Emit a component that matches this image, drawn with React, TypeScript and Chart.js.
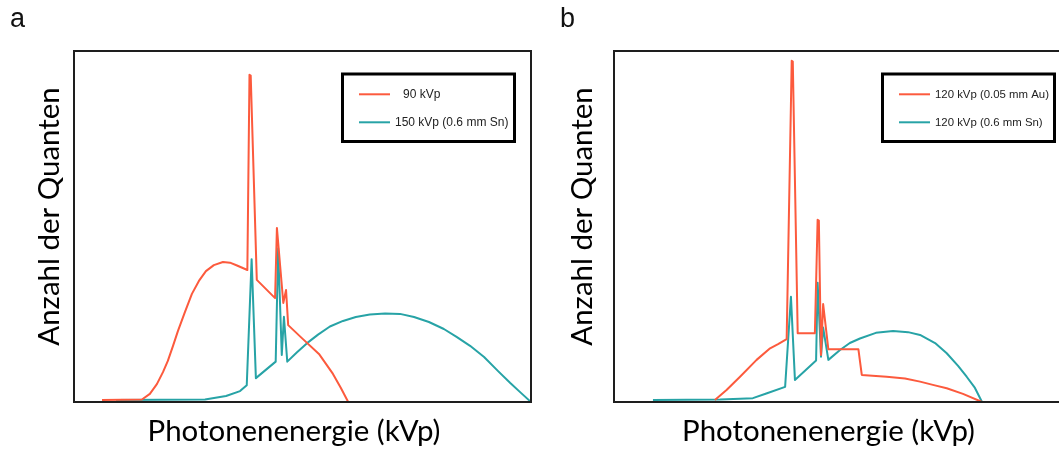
import React, { useEffect, useRef } from "react";
import { Chart, registerables } from "chart.js";

Chart.register(...registerables);

// ---------- data ----------
const RED = "#FC5A3D";
const TEAL = "#27A3A6";

// Panel a
const aLegendLabels = ["90 kVp", "150 kVp (0.6 mm Sn)"];
const aRedX = [9.2, 22.3, 24.9, 27.2, 29.2, 30.8, 32.5, 34.1, 36.4, 38.7, 41, 43.3, 45.9, 48.9, 51.2, 53.5, 56.9, 57.6, 58.0, 60, 66, 66.6, 68.7, 69.6, 70.3, 74.8, 80.4, 85, 87.6, 90];
const aRedY = [0.6, 0.7, 2.3, 5.1, 8.5, 11.7, 16, 20.2, 25.6, 30.8, 34.5, 37.3, 39, 39.9, 39.7, 38.9, 37.6, 93.2, 93.0, 34.8, 29.6, 49.6, 28.2, 31.9, 21.9, 18.2, 13.7, 8, 4, 0];
const aTealX = [13.8, 43, 49.9, 54.5, 56.7, 58.3, 59.7, 66.2, 67, 68.2, 68.9, 70, 73.2, 76.4, 80.1, 84, 88.3, 92.5, 97.1, 102.1, 107, 111.6, 116.5, 121.4, 125.7, 130, 134.6, 139.2, 143.2, 146.7, 150];
const aTealY = [0.6, 0.7, 1.7, 3.1, 4.8, 40.7, 6.8, 11.5, 43.8, 13.4, 24.3, 11.5, 14.2, 16.7, 19.2, 21.5, 23.1, 24.2, 24.9, 25.2, 25.1, 24.2, 22.8, 20.8, 18.5, 16, 12.8, 8.8, 5.4, 2.6, 0];

// Panel b
const bLegendLabels = ["120 kVp (0.05 mm Au)", "120 kVp (0.6 mm Sn)"];
const bRedX = [32.9, 36.7, 41.1, 46.5, 50.9, 53.5, 56.3, 57.95, 58.3, 59.9, 65.5, 66.4, 66.8, 67.5, 68.2, 69.9, 79.7, 80.8, 88.9, 94.9, 99.8, 104.3, 108.5, 113.8, 120];
const bRedY = [0.6, 3.4, 7.2, 12, 15.3, 16.5, 17.9, 97.2, 97.0, 19.6, 19.6, 51.9, 51.7, 13.4, 27.9, 15, 15, 7.7, 7.2, 6.7, 5.8, 4.8, 3.9, 2.3, 0];
const bTealX = [12.7, 34.6, 41.1, 45.3, 49.9, 55.8, 57.7, 59, 65.9, 66.4, 67.5, 68.2, 69.9, 73.7, 76.9, 80.2, 85.4, 91, 95.9, 99.8, 104.7, 108.5, 112.2, 115, 117.7, 120];
const bTealY = [0.6, 0.7, 0.9, 1.1, 2.5, 4.3, 30, 6.3, 11.8, 34, 12.9, 21.2, 12, 14.8, 16.8, 18.1, 19.7, 20.2, 19.9, 19.1, 16.8, 13.9, 10.3, 7.2, 4, 0];

const X_TITLE = "Photonenenergie (kVp)";
const Y_TITLE = "Anzahl der Quanten";

const toPts = (xs: number[], ys: number[]) => xs.map((x, i) => ({ x, y: ys[i] }));

// ---------- decoration plugin ----------
const decoPlugin = {
  id: "deco",
  afterDatasetsDraw(chart: any, _args: any, opts: any) {
    const ctx = chart.ctx;
    const ca = chart.chartArea;
    ctx.save();
    // frame
    ctx.strokeStyle = "#1e1e1e";
    ctx.lineWidth = 2;
    ctx.strokeRect(ca.left, ca.top, ca.right - ca.left, ca.bottom - ca.top);

    // legend box
    const lg = opts.legend;
    ctx.strokeStyle = "#000";
    ctx.lineWidth = 3;
    ctx.strokeRect(lg.x, lg.y, lg.w, lg.h);
    ctx.lineWidth = 2;
    ctx.font = `${lg.fontSize}px 'Liberation Sans', Arial, sans-serif`;
    ctx.textBaseline = "middle";
    ctx.textAlign = "left";
    chart.data.datasets.forEach((ds: any, i: number) => {
      const y = lg.rows[i];
      ctx.strokeStyle = ds.borderColor;
      ctx.beginPath();
      ctx.moveTo(lg.lineX0, y);
      ctx.lineTo(lg.lineX1, y);
      ctx.stroke();
      ctx.fillStyle = "#222";
      ctx.fillText(ds.label, lg.textX[i], y + 0.5);
    });

    // panel letter
    ctx.fillStyle = "#111";
    ctx.font = "27px 'Liberation Sans', Arial, sans-serif";
    ctx.textBaseline = "alphabetic";
    ctx.textAlign = "left";
    ctx.fillText(opts.letter, opts.letterX, 26.5);

    // axis titles, size fitted to measured width
    ctx.font = "100px Lato, 'Open Sans', sans-serif";
    const w = ctx.measureText(X_TITLE).width;
    const size = (100 * 293) / w;
    ctx.font = `${size}px Lato, 'Open Sans', sans-serif`;
    ctx.fillStyle = "#000";
    ctx.textAlign = "center";
    ctx.textBaseline = "alphabetic";
    ctx.fillText(X_TITLE, opts.xTitleX, 441);

    ctx.translate(opts.yTitleX, 216.5);
    ctx.rotate(-Math.PI / 2);
    ctx.fillText(Y_TITLE, 0, 0);
    ctx.restore();
  },
};

function makeChart(canvas: HTMLCanvasElement, cfg: any) {
  return new Chart(canvas, {
    type: "line",
    data: {
      datasets: [
        {
          label: cfg.labels[0],
          data: toPts(cfg.redX, cfg.redY),
          borderColor: RED,
          borderWidth: 2,
          pointRadius: 0,
          tension: 0,
          fill: false,
          borderJoinStyle: "round",
        },
        {
          label: cfg.labels[1],
          data: toPts(cfg.tealX, cfg.tealY),
          borderColor: TEAL,
          borderWidth: 2,
          pointRadius: 0,
          tension: 0,
          fill: false,
          borderJoinStyle: "round",
        },
      ],
    },
    options: {
      animation: false,
      responsive: false,
      maintainAspectRatio: false,
      devicePixelRatio: 1,
      layout: { padding: { left: 74, top: 51, right: cfg.padRight, bottom: 48 } },
      scales: {
        x: { type: "linear", min: 0, max: 150, display: false },
        y: { type: "linear", min: 0, max: 100, display: false },
      },
      plugins: {
        legend: { display: false },
        tooltip: { enabled: false },
        deco: {
          letter: cfg.letter,
          letterX: cfg.letterX,
          xTitleX: cfg.xTitleX,
          yTitleX: cfg.yTitleX,
          legend: {
            x: 342.5,
            y: 74,
            w: 172,
            h: 67.5,
            rows: [94.3, 122.3],
            lineX0: 359,
            lineX1: 390,
            textX: cfg.legendTextX,
            fontSize: cfg.legendFontSize,
          },
        },
      },
    } as any,
    plugins: [decoPlugin],
  });
}

export default function App() {
  const refA = useRef<HTMLCanvasElement>(null);
  const refB = useRef<HTMLCanvasElement>(null);

  useEffect(() => {
    document.body.style.margin = "0";
    const a = makeChart(refA.current!, {
      labels: aLegendLabels,
      redX: aRedX,
      redY: aRedY,
      tealX: aTealX,
      tealY: aTealY,
      padRight: 14,
      letter: "a",
      letterX: 10,
      xTitleX: 294,
      yTitleX: 59,
      legendTextX: [403, 395],
      legendFontSize: 12,
    });
    const b = makeChart(refB.current!, {
      labels: bLegendLabels,
      redX: bRedX,
      redY: bRedY,
      tealX: bTealX,
      tealY: bTealY,
      padRight: 11,
      letter: "b",
      letterX: 20,
      xTitleX: 288.5,
      yTitleX: 52,
      legendTextX: [395, 395],
      legendFontSize: 11.4,
    });
    return () => {
      a.destroy();
      b.destroy();
    };
  }, []);

  return (
    <div
      style={{
        position: "fixed",
        left: 0,
        top: 0,
        width: 1059,
        height: 450,
        overflow: "hidden",
        background: "#fff",
      }}
    >
      <canvas
        ref={refA}
        width={545}
        height={450}
        style={{ position: "absolute", left: 0, top: 0, width: 545, height: 450 }}
      />
      <canvas
        ref={refB}
        width={545}
        height={450}
        style={{ position: "absolute", left: 540, top: 0, width: 545, height: 450 }}
      />
    </div>
  );
}
